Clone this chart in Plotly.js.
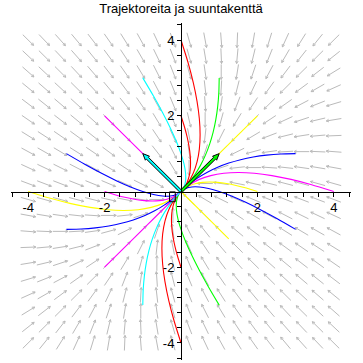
<!DOCTYPE html>
<html><head><meta charset="utf-8">
<script src="https://cdn.plot.ly/plotly-3.0.1.min.js"></script>
<style>html,body{margin:0;padding:0;background:#fff}#chart{width:363px;height:363px}</style>
</head><body><div id="chart"></div>
<script>
// ---- direction field grid (20 x 20) ----
const gridX = [-4,-3.5789,-3.1579,-2.7368,-2.3158,-1.8947,-1.4737,-1.0526,-0.6316,-0.2105,0.2105,0.6316,1.0526,1.4737,1.8947,2.3158,2.7368,3.1579,3.5789,4];
const gridY = [-4,-3.5789,-3.1579,-2.7368,-2.3158,-1.8947,-1.4737,-1.0526,-0.6316,-0.2105,0.2105,0.6316,1.0526,1.4737,1.8947,2.3158,2.7368,3.1579,3.5789,4];
// arrow direction components per grid point (rows follow gridY, columns follow gridX)
const fieldU = [
[38,32,26,20,14,8,2,-4,-10,-16,-22,-28,-34,-40,-46,-52,-58,-64,-70,-76],
[40,34,28,22,16,10,4,-2,-8,-14,-20,-26,-32,-38,-44,-50,-56,-62,-68,-74],
[42,36,30,24,18,12,6,0,-6,-12,-18,-24,-30,-36,-42,-48,-54,-60,-66,-72],
[44,38,32,26,20,14,8,2,-4,-10,-16,-22,-28,-34,-40,-46,-52,-58,-64,-70],
[46,40,34,28,22,16,10,4,-2,-8,-14,-20,-26,-32,-38,-44,-50,-56,-62,-68],
[48,42,36,30,24,18,12,6,0,-6,-12,-18,-24,-30,-36,-42,-48,-54,-60,-66],
[50,44,38,32,26,20,14,8,2,-4,-10,-16,-22,-28,-34,-40,-46,-52,-58,-64],
[52,46,40,34,28,22,16,10,4,-2,-8,-14,-20,-26,-32,-38,-44,-50,-56,-62],
[54,48,42,36,30,24,18,12,6,0,-6,-12,-18,-24,-30,-36,-42,-48,-54,-60],
[56,50,44,38,32,26,20,14,8,2,-4,-10,-16,-22,-28,-34,-40,-46,-52,-58],
[58,52,46,40,34,28,22,16,10,4,-2,-8,-14,-20,-26,-32,-38,-44,-50,-56],
[60,54,48,42,36,30,24,18,12,6,0,-6,-12,-18,-24,-30,-36,-42,-48,-54],
[62,56,50,44,38,32,26,20,14,8,2,-4,-10,-16,-22,-28,-34,-40,-46,-52],
[64,58,52,46,40,34,28,22,16,10,4,-2,-8,-14,-20,-26,-32,-38,-44,-50],
[66,60,54,48,42,36,30,24,18,12,6,0,-6,-12,-18,-24,-30,-36,-42,-48],
[68,62,56,50,44,38,32,26,20,14,8,2,-4,-10,-16,-22,-28,-34,-40,-46],
[70,64,58,52,46,40,34,28,22,16,10,4,-2,-8,-14,-20,-26,-32,-38,-44],
[72,66,60,54,48,42,36,30,24,18,12,6,0,-6,-12,-18,-24,-30,-36,-42],
[74,68,62,56,50,44,38,32,26,20,14,8,2,-4,-10,-16,-22,-28,-34,-40],
[76,70,64,58,52,46,40,34,28,22,16,10,4,-2,-8,-14,-20,-26,-32,-38]];
const fieldV = [
[38,40,42,44,46,48,50,52,54,56,58,60,62,64,66,68,70,72,74,76],
[32,34,36,38,40,42,44,46,48,50,52,54,56,58,60,62,64,66,68,70],
[26,28,30,32,34,36,38,40,42,44,46,48,50,52,54,56,58,60,62,64],
[20,22,24,26,28,30,32,34,36,38,40,42,44,46,48,50,52,54,56,58],
[14,16,18,20,22,24,26,28,30,32,34,36,38,40,42,44,46,48,50,52],
[8,10,12,14,16,18,20,22,24,26,28,30,32,34,36,38,40,42,44,46],
[2,4,6,8,10,12,14,16,18,20,22,24,26,28,30,32,34,36,38,40],
[-4,-2,0,2,4,6,8,10,12,14,16,18,20,22,24,26,28,30,32,34],
[-10,-8,-6,-4,-2,0,2,4,6,8,10,12,14,16,18,20,22,24,26,28],
[-16,-14,-12,-10,-8,-6,-4,-2,0,2,4,6,8,10,12,14,16,18,20,22],
[-22,-20,-18,-16,-14,-12,-10,-8,-6,-4,-2,0,2,4,6,8,10,12,14,16],
[-28,-26,-24,-22,-20,-18,-16,-14,-12,-10,-8,-6,-4,-2,0,2,4,6,8,10],
[-34,-32,-30,-28,-26,-24,-22,-20,-18,-16,-14,-12,-10,-8,-6,-4,-2,0,2,4],
[-40,-38,-36,-34,-32,-30,-28,-26,-24,-22,-20,-18,-16,-14,-12,-10,-8,-6,-4,-2],
[-46,-44,-42,-40,-38,-36,-34,-32,-30,-28,-26,-24,-22,-20,-18,-16,-14,-12,-10,-8],
[-52,-50,-48,-46,-44,-42,-40,-38,-36,-34,-32,-30,-28,-26,-24,-22,-20,-18,-16,-14],
[-58,-56,-54,-52,-50,-48,-46,-44,-42,-40,-38,-36,-34,-32,-30,-28,-26,-24,-22,-20],
[-64,-62,-60,-58,-56,-54,-52,-50,-48,-46,-44,-42,-40,-38,-36,-34,-32,-30,-28,-26],
[-70,-68,-66,-64,-62,-60,-58,-56,-54,-52,-50,-48,-46,-44,-42,-40,-38,-36,-34,-32],
[-76,-74,-72,-70,-68,-66,-64,-62,-60,-58,-56,-54,-52,-50,-48,-46,-44,-42,-40,-38]];

// ---- trajectories, grouped by colour ----
const redX = [
 [0,0.18,0.32,0.42,0.48,0.5,0.48,0.42,0.32,0.18,0.095,0.04],
 [0,0.09,0.16,0.21,0.24,0.25,0.24,0.21,0.16,0.09,0.05,0.02],
 [0,-0.09,-0.16,-0.21,-0.24,-0.25,-0.24,-0.21,-0.16,-0.09,-0.05,-0.02],
 [0,-0.18,-0.32,-0.42,-0.48,-0.5,-0.48,-0.42,-0.32,-0.18,-0.095,-0.04]];
const redY = [
 [4,3.42,2.88,2.38,1.92,1.5,1.12,0.78,0.48,0.22,0.105,0.04],
 [2,1.71,1.44,1.19,0.96,0.75,0.56,0.39,0.24,0.11,0.05,0.02],
 [-2,-1.71,-1.44,-1.19,-0.96,-0.75,-0.56,-0.39,-0.24,-0.11,-0.05,-0.02],
 [-4,-3.42,-2.88,-2.38,-1.92,-1.5,-1.12,-0.78,-0.48,-0.22,-0.105,-0.04]];
const greenX = [
 [1,0.99,0.96,0.91,0.84,0.75,0.64,0.51,0.36,0.19,0.1,0.04],
 [1,0.72,0.48,0.28,0.12,0,-0.08,-0.12,-0.12,-0.08,-0.045,-0.02]];
const greenY = [
 [3,2.61,2.24,1.89,1.56,1.25,0.96,0.69,0.44,0.21,0.1,0.04],
 [-3,-2.52,-2.08,-1.68,-1.32,-1,-0.72,-0.48,-0.28,-0.12,-0.055,-0.02]];
const cyanX = [
 [-1,-0.72,-0.48,-0.28,-0.12,0,0.08,0.12,0.12,0.08,0.045,0.02],
 [-1,-0.99,-0.96,-0.91,-0.84,-0.75,-0.64,-0.51,-0.36,-0.19,-0.1,-0.04]];
const cyanY = [
 [3,2.52,2.08,1.68,1.32,1,0.72,0.48,0.28,0.12,0.055,0.02],
 [-3,-2.61,-2.24,-1.89,-1.56,-1.25,-0.96,-0.69,-0.44,-0.21,-0.1,-0.04]];
const yellowX = [
 [2,1,0.02],
 [-4,-3.42,-2.88,-2.38,-1.92,-1.5,-1.12,-0.78,-0.48,-0.22,-0.105,-0.04],
 [2,1.71,1.44,1.19,0.96,0.75,0.56,0.39,0.24,0.11,0.05,0.02],
 [1.25,0.6,0.02]];
const yellowY = [
 [2,1,0.02],
 [0,-0.18,-0.32,-0.42,-0.48,-0.5,-0.48,-0.42,-0.32,-0.18,-0.095,-0.04],
 [0,0.09,0.16,0.21,0.24,0.25,0.24,0.21,0.16,0.09,0.05,0.02],
 [-1.25,-0.6,-0.02]];
const blueX = [
 [3,2.61,2.24,1.89,1.56,1.25,0.96,0.69,0.44,0.21,0.1,0.04],
 [-3,-2.52,-2.08,-1.68,-1.32,-1,-0.72,-0.48,-0.28,-0.12,-0.055,-0.02],
 [-3,-2.61,-2.24,-1.89,-1.56,-1.25,-0.96,-0.69,-0.44,-0.21,-0.1,-0.04],
 [3,2.52,2.08,1.68,1.32,1,0.72,0.48,0.28,0.12,0.055,0.02]];
const blueY = [
 [1,0.99,0.96,0.91,0.84,0.75,0.64,0.51,0.36,0.19,0.1,0.04],
 [1,0.72,0.48,0.28,0.12,0,-0.08,-0.12,-0.12,-0.08,-0.045,-0.02],
 [-1,-0.99,-0.96,-0.91,-0.84,-0.75,-0.64,-0.51,-0.36,-0.19,-0.1,-0.04],
 [-1,-0.72,-0.48,-0.28,-0.12,0,0.08,0.12,0.12,0.08,0.045,0.02]];
const magentaX = [
 [4,3.42,2.88,2.38,1.92,1.5,1.12,0.78,0.48,0.22,0.105,0.04],
 [-2,-1,-0.02],
 [-2,-1,-0.02],
 [-2,-1.71,-1.44,-1.19,-0.96,-0.75,-0.56,-0.39,-0.24,-0.11,-0.05,-0.02]];
const magentaY = [
 [0,0.18,0.32,0.42,0.48,0.5,0.48,0.42,0.32,0.18,0.095,0.04],
 [2,1,0.02],
 [-2,-1,-0.02],
 [0,-0.09,-0.16,-0.21,-0.24,-0.25,-0.24,-0.21,-0.16,-0.09,-0.05,-0.02]];

// eigenvector arrows
const eigTipX = [1,-1];
const eigTipY = [1,1];
const eigFill = ['#00ff00','#00ffff'];
// small black box near the origin
const boxX = [-0.3,-0.15,-0.15,-0.3,-0.3];
const boxY = [-0.01,-0.01,-0.27,-0.27,-0.01];

// axis ticks
const tickVals = [-4.4,-4,-3.6,-3.2,-2.8,-2.4,-2,-1.6,-1.2,-0.8,-0.4,0.4,0.8,1.2,1.6,2,2.4,2.8,3.2,3.6,4,4.4];
const tickText = ['','-4','','','','','-2','','','','','','','','','2','','','','','4',''];

const traces = [];
// direction field arrows
(function(){
  const L = 0.4, hb = 0.075, ang = 28*Math.PI/180;
  const xs = [], ys = [];
  for (let j = 0; j < gridY.length; j++) {
    for (let i = 0; i < gridX.length; i++) {
      const u = fieldU[j][i], v = fieldV[j][i];
      const n = Math.hypot(u, v) || 1;
      const dx = u/n, dy = v/n;
      const cx = gridX[i], cy = gridY[j];
      const x0 = cx - dx*L/2, y0 = cy - dy*L/2;
      const x1 = cx + dx*L/2, y1 = cy + dy*L/2;
      xs.push(x0, x1, null); ys.push(y0, y1, null);
      for (const s of [ang, -ang]) {
        const bx = -dx*Math.cos(s) + dy*Math.sin(s);
        const by = -dy*Math.cos(s) - dx*Math.sin(s);
        xs.push(x1, x1 + bx*hb, null); ys.push(y1, y1 + by*hb, null);
      }
    }
  }
  traces.push({type:'scatter', mode:'lines', x:xs, y:ys, hoverinfo:'skip',
    line:{color:'#bababa', width:1}, showlegend:false});
})();

function addCurves(X, Y, color) {
  for (let k = 0; k < X.length; k++) {
    traces.push({type:'scatter', mode:'lines', x:X[k], y:Y[k], showlegend:false,
      line:{color:color, width:1.1, shape:'spline', smoothing:0.6}});
  }
}
addCurves(redX, redY, '#ff0000');
addCurves(greenX, greenY, '#00ff00');
addCurves(yellowX, yellowY, '#ffff00');
addCurves(blueX, blueY, '#0000ff');
addCurves(magentaX, magentaY, '#ff00ff');
addCurves(cyanX, cyanY, '#00ffff');

// eigenvector arrows as filled polygons
for (let k = 0; k < eigTipX.length; k++) {
  const tx = eigTipX[k], ty = eigTipY[k];
  const len = Math.hypot(tx, ty);
  const dx = tx/len, dy = ty/len, nx = -dy, ny = dx;
  const w = 0.035, hw = 0.075, hl = 0.17;
  const bx = tx - dx*hl, by = ty - dy*hl;
  const px = [w*nx, bx + w*nx, bx + hw*nx, tx, bx - hw*nx, bx - w*nx, -w*nx, w*nx];
  const py = [w*ny, by + w*ny, by + hw*ny, ty, by - hw*ny, by - w*ny, -w*ny, w*ny];
  traces.push({type:'scatter', mode:'lines', x:px, y:py, fill:'toself', fillcolor:eigFill[k],
    line:{color:'#000', width:1}, showlegend:false});
}
traces.push({type:'scatter', mode:'lines', x:boxX, y:boxY, line:{color:'#000', width:1}, showlegend:false});

const axisCommon = {
  range:[-4.45,4.45], anchor:'free', position:0.5, showgrid:false, zeroline:false,
  showline:true, linecolor:'#000', linewidth:1, ticks:'outside', ticklen:4, tickwidth:1, tickcolor:'#000',
  tickmode:'array', tickvals:tickVals, ticktext:tickText,
  tickfont:{family:'Liberation Sans, Arial, sans-serif', size:13, color:'#000'}
};
const layout = {
  width:363, height:363,
  margin:{l:11, r:12, t:23, b:3, pad:0},
  paper_bgcolor:'#fff', plot_bgcolor:'#fff',
  showlegend:false,
  title:{text:'Trajektoreita ja suuntakenttä', font:{family:'Liberation Sans, Arial, sans-serif', size:13, color:'#000'},
    x:0.5, xref:'paper', y:1-8.5/363, yref:'container', yanchor:'middle'},
  xaxis:Object.assign({}, axisCommon),
  yaxis:Object.assign({}, axisCommon)
};
Plotly.newPlot('chart', traces, layout, {staticPlot:true, displayModeBar:false});
</script>
</body></html>
